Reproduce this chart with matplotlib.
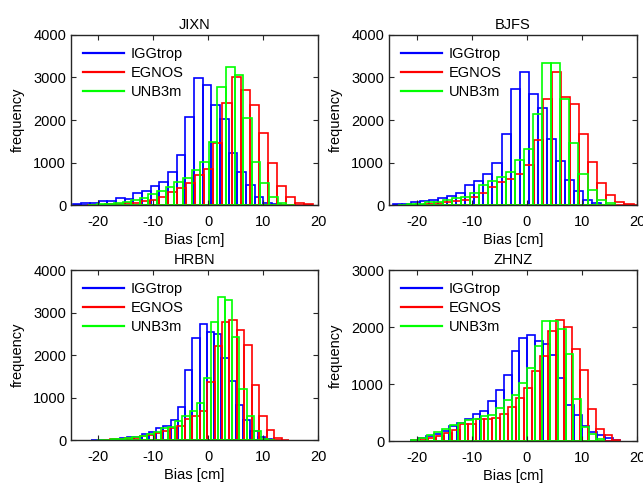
import numpy as np
import matplotlib
matplotlib.use("Agg")
import matplotlib.pyplot as plt

plt.rcParams['font.family'] = ['Liberation Sans', 'DejaVu Sans']
plt.rcParams['axes.unicode_minus'] = False

series_names = ["IGGtrop", "EGNOS", "UNB3m"]
colors = ["#0000ff", "#ff0000", "#00ff00"]
stations = ["JIXN", "BJFS", "HRBN", "ZHNZ"]
ylims = [4000, 4000, 4000, 3000]

# histogram bins: first left edge [cm], bin width [cm], counts
jixn_igg_start, jixn_igg_width = -24.7, 1.58
jixn_igg = [15, 40, 55, 95, 90, 160, 145, 275, 330, 450, 550, 765, 1165, 2080, 2985,
            2835, 2360, 2020, 1220, 770, 480, 190, 50, 15]
jixn_egn_start, jixn_egn_width = -22.15, 1.65
jixn_egn = [5, 10, 15, 25, 40, 55, 95, 118, 180, 315, 400, 510, 706, 839, 1451, 2392,
            3004, 2706, 2360, 1702, 980, 447, 180, 45, 28]
jixn_unb_start, jixn_unb_width = -21.88, 1.57
jixn_unb = [10, 20, 35, 55, 78, 118, 157, 259, 322, 416, 541, 627, 816, 1020, 1490,
            2769, 3247, 3051, 2039, 1020, 510, 180, 40, 10]

bjfs_igg_start, bjfs_igg_width = -24.26, 1.64
bjfs_igg = [15, 32, 63, 95, 126, 173, 213, 291, 465, 567, 726, 977, 1670, 2731, 3118,
            2622, 2283, 1545, 1033, 585, 325, 113, 40, 10]
bjfs_egn_start, bjfs_egn_width = -20.22, 1.65
bjfs_egn = [8, 16, 40, 63, 95, 126, 189, 276, 425, 537, 622, 719, 931, 1540, 2495, 3130,
            2552, 2370, 1665, 1019, 523, 240, 76, 30, 10]
bjfs_unb_start, bjfs_unb_width = -23.42, 1.64
bjfs_unb = [10, 20, 35, 60, 79, 118, 165, 196, 277, 473, 567, 669, 775, 1066, 1316, 2142,
            3330, 3330, 2495, 1467, 736, 342, 123, 40]

hrbn_igg_start, hrbn_igg_width = -21.36, 1.32
hrbn_igg = [3, 5, 10, 20, 38, 63, 78, 142, 196, 291, 322, 480, 780, 1655, 2402, 2726,
            2537, 2489, 1929, 1395, 834, 473, 220, 62, 15]
hrbn_egn_start, hrbn_egn_width = -19.25, 1.36
hrbn_egn = [5, 12, 25, 38, 54, 95, 125, 165, 220, 284, 338, 496, 558, 693, 1355, 2206,
            2766, 2820, 2584, 2246, 1284, 558, 236, 40, 10]
hrbn_unb_start, hrbn_unb_width = -20.31, 1.30
hrbn_unb = [4, 8, 15, 25, 40, 63, 102, 142, 189, 274, 314, 440, 567, 680, 870, 1466,
            2773, 3371, 3286, 2426, 1189, 567, 220, 24, 5]

zhnz_igg_start, zhnz_igg_width = -21.09, 1.41
zhnz_igg = [15, 44, 85, 115, 174, 263, 323, 382, 471, 530, 696, 888, 1151, 1572, 1803,
            1861, 1755, 1709, 1506, 1105, 630, 453, 263, 156, 98, 50, 10]
zhnz_egn_start, zhnz_egn_width = -20.77, 1.45
zhnz_egn = [10, 30, 46, 85, 133, 186, 293, 305, 383, 383, 412, 465, 600, 749, 927, 1222,
            1496, 1932, 2128, 1993, 1607, 1240, 560, 204, 110, 20]
zhnz_unb_start, zhnz_unb_width = -20.95, 1.40
zhnz_unb = [25, 50, 98, 156, 217, 281, 311, 369, 394, 430, 453, 575, 720, 805, 1021,
            1282, 1661, 2110, 2110, 1968, 1524, 737, 252, 128, 27]

data = {
    "JIXN": [(jixn_igg_start, jixn_igg_width, jixn_igg),
             (jixn_egn_start, jixn_egn_width, jixn_egn),
             (jixn_unb_start, jixn_unb_width, jixn_unb)],
    "BJFS": [(bjfs_igg_start, bjfs_igg_width, bjfs_igg),
             (bjfs_egn_start, bjfs_egn_width, bjfs_egn),
             (bjfs_unb_start, bjfs_unb_width, bjfs_unb)],
    "HRBN": [(hrbn_igg_start, hrbn_igg_width, hrbn_igg),
             (hrbn_egn_start, hrbn_egn_width, hrbn_egn),
             (hrbn_unb_start, hrbn_unb_width, hrbn_unb)],
    "ZHNZ": [(zhnz_igg_start, zhnz_igg_width, zhnz_igg),
             (zhnz_egn_start, zhnz_egn_width, zhnz_egn),
             (zhnz_unb_start, zhnz_unb_width, zhnz_unb)],
}

W, H = 643, 486
fig = plt.figure(figsize=(W / 100, H / 100), dpi=100)

# axes boxes in pixels: left, right, top, bottom
boxes = [(71, 318, 35, 205), (389, 637, 35, 205),
         (71, 318, 270, 440), (389, 637, 270, 441)]

axcol = "#262626"
fs = 10.5
for st, ymax, (l, r, t, b) in zip(stations, ylims, boxes):
    ax = fig.add_axes([l / W, 1 - b / H, (r - l) / W, (b - t) / H])
    handles = []
    for (start, width, counts), c, name in zip(data[st], colors, series_names):
        counts = np.asarray(counts, dtype=float)
        edges = start + width * np.arange(len(counts))
        ax.bar(edges, counts, width=width, align='edge', fill=False,
               edgecolor=c, linewidth=1.2)
        h, = ax.plot([], [], color=c, linewidth=1.6, label=name)
        handles.append(h)
    ax.set_xlim(-25, 20)
    ax.set_ylim(0, ymax)
    ax.set_xticks([-20, -10, 0, 10, 20])
    ax.set_yticks(np.arange(0, ymax + 1, 1000))
    ax.tick_params(direction='in', top=True, right=True, length=3.5, width=0.8,
                   colors=axcol, labelsize=fs, labelcolor='black')
    ax.tick_params(axis='x', pad=7)
    for sp in ax.spines.values():
        sp.set_color(axcol)
        sp.set_linewidth(1.0)
    ax.set_title(st, fontsize=fs, pad=4)
    ax.set_xlabel("Bias [cm]", fontsize=fs, labelpad=3)
    ax.set_ylabel("frequency", fontsize=fs, labelpad=6)
    ax.legend(handles=handles, loc='upper left', frameon=False, fontsize=fs,
              handlelength=2.8, handletextpad=0.45, labelspacing=0.32,
              borderaxespad=0.45)

fig.savefig("out.png", dpi=100)
